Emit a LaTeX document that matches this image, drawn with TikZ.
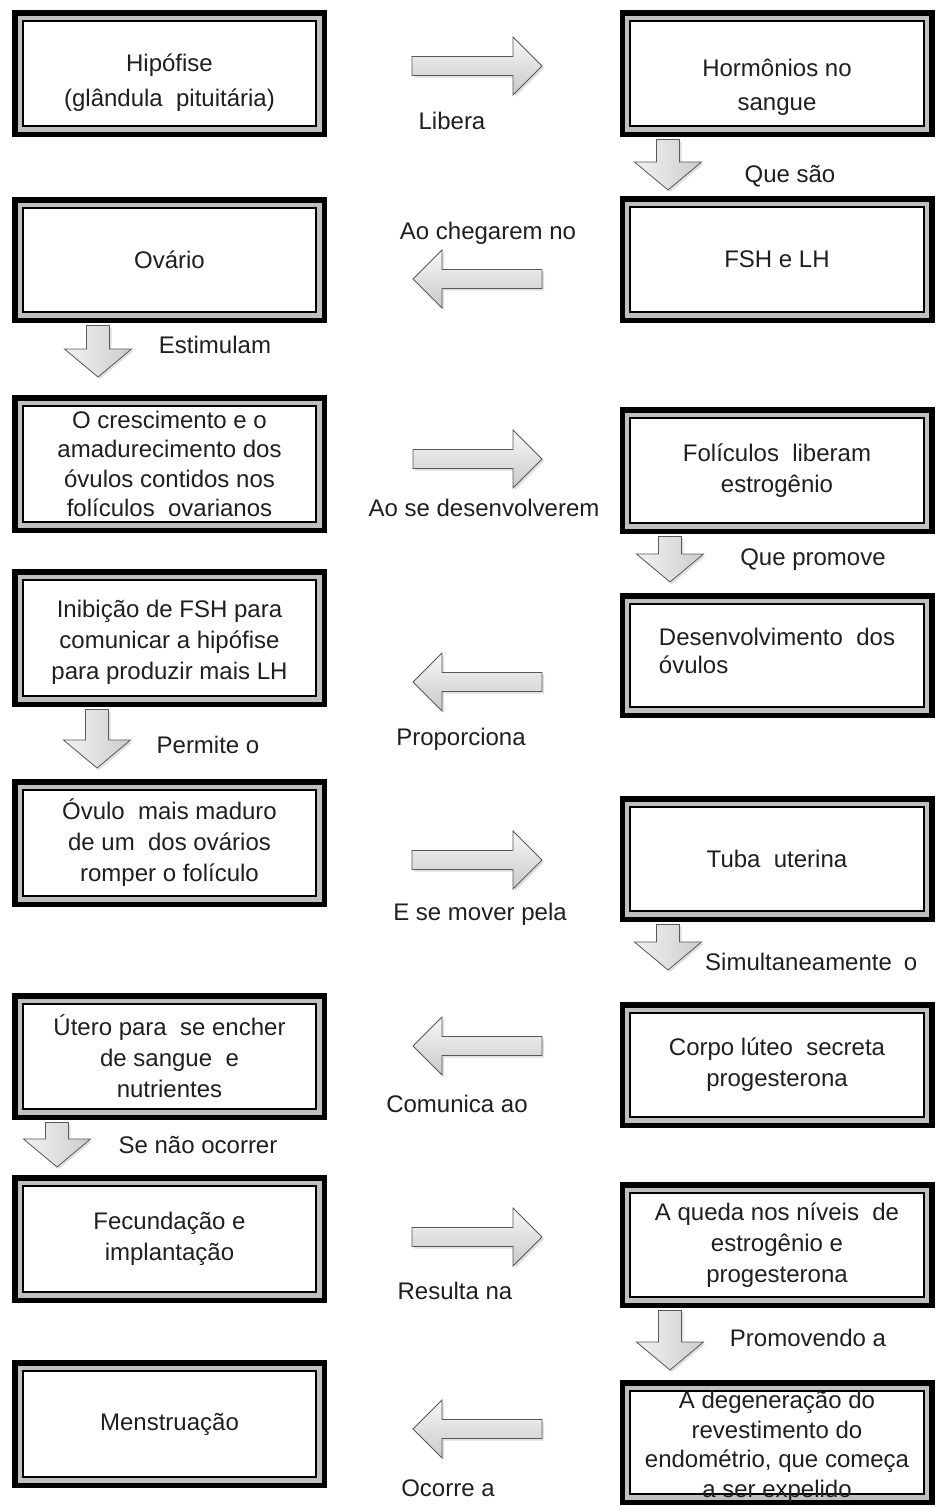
\documentclass[tikz,border=0pt]{standalone}
\usepackage{fontspec}
\setmainfont{Liberation Sans}
\usetikzlibrary{calc,shadows}
\tikzset{
  x=1pt,y=-1pt,
  txt/.style={font=\fontsize{24}{31}\selectfont, text=black!88},
  box/.style={txt, draw=black, line width=5.5pt, fill=gray!50,
    minimum width=309.5pt, minimum height=#1, inner sep=0pt, align=center,
    path picture={\draw[line width=2.4pt, fill=white]
      ([shift={(8pt,-8pt)}]path picture bounding box.north west) rectangle
      ([shift={(-8pt,8pt)}]path picture bounding box.south east);}},
  box/.default=121.5pt,
  lbl/.style={txt, inner sep=0pt},
  blk/.style={draw=black!65, line width=0.8pt, top color=gray!6, bottom color=gray!42,
    drop shadow={shadow xshift=2pt, shadow yshift=-2pt, opacity=0.25}},
  blkv/.style={draw=black!65, line width=0.8pt, left color=gray!10, right color=gray!40,
    drop shadow={shadow xshift=2pt, shadow yshift=-2pt, opacity=0.25}},
}
% vertical block arrow from #1 (top centre) to #2 (tip)
\newcommand\downarr[2]{\draw[blkv] let \p1=(#1), \p2=(#2) in
  (\x1-11.5pt,\y1) -- (\x1-11.5pt,\y2+28pt) -- (\x1-33.5pt,\y2+28pt) -- (\x1,\y2)
  -- (\x1+33.5pt,\y2+28pt) -- (\x1+11.5pt,\y2+28pt) -- (\x1+11.5pt,\y1) -- cycle;}
% right-pointing block arrow: #1 tail, #2 tip
\newcommand\rightarr[2]{\draw[blk] let \p1=(#1), \p2=(#2) in
  (\x1,\y1+9.5pt) -- (\x2-29pt,\y1+9.5pt) -- (\x2-29pt,\y1+29pt) -- (\x2,\y1)
  -- (\x2-29pt,\y1-29pt) -- (\x2-29pt,\y1-9.5pt) -- (\x1,\y1-9.5pt) -- cycle;}
% left-pointing block arrow: #1 tail, #2 tip
\newcommand\leftarr[2]{\draw[blk] let \p1=(#1), \p2=(#2) in
  (\x1,\y1+9.5pt) -- (\x2+29pt,\y1+9.5pt) -- (\x2+29pt,\y1+29pt) -- (\x2,\y1)
  -- (\x2+29pt,\y1-29pt) -- (\x2+29pt,\y1-9.5pt) -- (\x1,\y1-9.5pt) -- cycle;}
\begin{document}
\begin{tikzpicture}
\useasboundingbox (0,0) rectangle (947,1507);
\fill[white] (0,0) rectangle (947,1507);

% left column
\node[box=121.5pt, font=\fontsize{24}{35}\selectfont] (L1) at (169.5,73.5) {\rule{0pt}{35pt}Hipófise\\(glândula\ \ pituitária)};
\node[box=120.5pt] (L2) at (169.5,260) {Ovário};
\node[box=132.5pt, font=\fontsize{24}{29.5}\selectfont] (L3) at (169.5,464) {O crescimento e o\\amadurecimento dos\\óvulos contidos nos\\folículos\ \ ovarianos};
\node[box=132.5pt] (L4) at (169.5,638) {\rule{0pt}{26pt}Inibição de FSH para\\comunicar a hipófise\\para produzir mais LH};
\node[box=122.5pt] (L5) at (169.5,843) {Óvulo\ \ mais maduro\\de um\ \ dos ovários\\romper o folículo};
\node[box=121.5pt] (L6) at (169.5,1056.5) {Útero para\ \ se encher\\de sangue\ \ e\\nutrientes};
\node[box=122.5pt] (L7) at (169.5,1239) {Fecundação e\\implantação};
\node[box=122.5pt] (L8) at (169.5,1424) {Menstruação};

% right column
\node[box=121.5pt, font=\fontsize{24}{34}\selectfont] (R1) at (777,73.5) {\rule{0pt}{45pt}Hormônios no\\sangue};
\node[box=121.5pt] (R2) at (777,259.5) {FSH e LH};
\node[box=121.5pt] (R3) at (777,470.5) {Folículos\ \ liberam\\estrogênio};
\node[box=119.5pt, align=left, font=\fontsize{24}{28}\selectfont] (R4) at (777,655.5) {Desenvolvimento\ \ dos\\óvulos\rule[-10pt]{0pt}{0pt}};
\node[box=120.5pt] (R5) at (777,859) {Tuba\ \ uterina};
\node[box=120.5pt] (R6) at (777,1065) {Corpo lúteo\ \ secreta\\progesterona};
\node[box=120.5pt] (R7) at (777,1245) {A queda nos níveis\ \ de\\estrogênio e\\progesterona};
\node[box=119.5pt, font=\fontsize{24}{29.5}\selectfont] (R8) at (777,1442.5) {\rule{0pt}{26pt}A degeneração do\\revestimento do\\endométrio, que começa\\a ser expelido};

% horizontal arrows
\coordinate (h1t) at (412,66);   \coordinate (h1h) at (542,66);
\coordinate (h2t) at (542,279);  \coordinate (h2h) at (413,279);
\coordinate (h3t) at (413,459);  \coordinate (h3h) at (542,459);
\coordinate (h4t) at (542,682);  \coordinate (h4h) at (413,682);
\coordinate (h5t) at (412,860);  \coordinate (h5h) at (542,860);
\coordinate (h6t) at (542,1046); \coordinate (h6h) at (413,1046);
\coordinate (h7t) at (412,1237); \coordinate (h7h) at (542,1237);
\coordinate (h8t) at (542,1429); \coordinate (h8h) at (413,1429);
\rightarr{h1t}{h1h}
\leftarr{h2t}{h2h}
\rightarr{h3t}{h3h}
\leftarr{h4t}{h4h}
\rightarr{h5t}{h5h}
\leftarr{h6t}{h6h}
\rightarr{h7t}{h7h}
\leftarr{h8t}{h8h}

% vertical arrows
\coordinate (v1s) at ([xshift=-109pt,yshift=-2.5pt]R1.south); \coordinate (v1e) at (668,190);
\coordinate (v2s) at ([xshift=-71.5pt,yshift=-2.5pt]L2.south); \coordinate (v2e) at (98,377);
\coordinate (v3s) at ([xshift=-107pt,yshift=-2.5pt]R3.south); \coordinate (v3e) at (670,582);
\coordinate (v4s) at ([xshift=-72.5pt,yshift=-2.5pt]L4.south); \coordinate (v4e) at (97,768);
\coordinate (v5s) at ([xshift=-109pt,yshift=-2.5pt]R5.south); \coordinate (v5e) at (668,970);
\coordinate (v6s) at ([xshift=-112.5pt,yshift=-2.5pt]L6.south); \coordinate (v6e) at (57,1167);
\coordinate (v7s) at ([xshift=-107pt,yshift=-2.5pt]R7.south); \coordinate (v7e) at (670,1370);
\downarr{v1s}{v1e}
\downarr{v2s}{v2e}
\downarr{v3s}{v3e}
\downarr{v4s}{v4e}
\downarr{v5s}{v5e}
\downarr{v6s}{v6e}
\downarr{v7s}{v7e}

% labels
\node[lbl] (t1) at (452,121) {Libera};
\node[lbl] (t2) at (488,233) {Ao chegarem no};
\node[lbl] (t3) at (484,508) {Ao se desenvolverem};
\node[lbl] (t4) at (461,739) {Proporciona};
\node[lbl] (t5) at (480,914) {E se mover pela};
\node[lbl] (t6) at (457,1104) {Comunica ao};
\node[lbl] (t7) at (455,1291) {Resulta na};
\node[lbl] (t8) at (448,1488) {Ocorre a};
\node[lbl] (u1) at (790,176) {Que são};
\node[lbl] (u2) at (215,345) {Estimulam};
\node[lbl] (u3) at (813,560) {Que promove};
\node[lbl] (u4) at (208,745) {Permite o};
\node[lbl, anchor=west] (u5) at (705,962) {Simultaneamente\hspace{12pt}o};
\node[lbl] (u6) at (198,1145) {Se não ocorrer};
\node[lbl] (u7) at (808,1338) {Promovendo a};
\end{tikzpicture}
\end{document}
